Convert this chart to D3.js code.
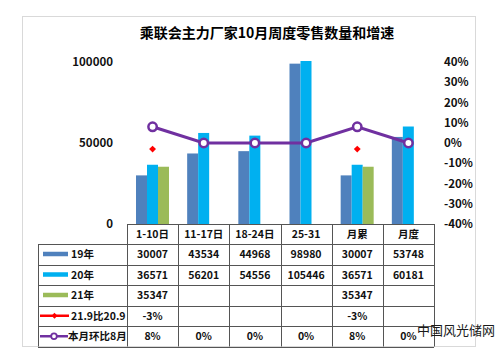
<!DOCTYPE html>
<html>
<head>
<meta charset="utf-8">
<script src="https://cdn.jsdelivr.net/npm/d3@7"></script>
<style>
  body { margin: 0; background: #fff; }
  text { font-family: "Noto Sans CJK SC", "Noto Sans", sans-serif; }
</style>
</head>
<body>
<script>
(function () {
  var cats = ["1-10日", "11-17日", "18-24日", "25-31", "月累", "月度"];
  var y19 = [30007, 43534, 44968, 98980, 30007, 53748];
  var y20 = [36571, 56201, 54556, 105446, 36571, 60181];
  var y21 = [35347, null, null, null, 35347, null];
  var yoy = [-3, null, null, null, -3, null];
  var mom = [8, 0, 0, 0, 8, 0];
  var leftTicks = [0, 50000, 100000];
  var rightTicks = [-40, -30, -20, -10, 0, 10, 20, 30, 40];

  var barSeries = [
    { name: "19年", vals: y19, color: "#4f81bd" },
    { name: "20年", vals: y20, color: "#00b0f0" },
    { name: "21年", vals: y21, color: "#9bbb59" }
  ];

  var W = 498, H = 361;
  var left = 127, right = 434, top = 62, bottom = 224;
  var rowH = 20.5;

  var svg = d3.select("body").append("svg")
    .attr("width", W)
    .attr("height", H);

  svg.append("rect")
    .attr("x", 22.5).attr("y", 16.5)
    .attr("width", 453).attr("height", 330)
    .attr("fill", "#fff")
    .attr("stroke", "#d9d9d9");

  svg.append("text")
    .attr("x", 267).attr("y", 38)
    .attr("text-anchor", "middle")
    .style("font-size", "14px")
    .style("font-weight", "bold")
    .text("乘联会主力厂家10月周度零售数量和增速");

  var x = d3.scaleBand().domain(cats).range([left, right]);
  var x1 = d3.scaleBand().domain(barSeries.map(function (s) { return s.name; })).range([9, 42]);
  var y = d3.scaleLinear().domain([0, 100000]).range([bottom, top]);
  var yr = d3.scaleLinear().domain([-40, 40]).range([bottom, top]);

  svg.append("defs").append("clipPath").attr("id", "plot")
    .append("rect")
    .attr("x", left).attr("y", top - 1)
    .attr("width", right - left).attr("height", bottom - top + 1);

  // axes
  var ga = svg.append("g")
    .attr("transform", "translate(" + left + ",0)")
    .call(d3.axisLeft(y).tickValues(leftTicks).tickSize(0).tickPadding(14).tickFormat(d3.format("d")));
  var gb = svg.append("g")
    .attr("transform", "translate(" + right + ",0)")
    .call(d3.axisRight(yr).tickValues(rightTicks).tickSize(0).tickPadding(10).tickFormat(function (d) { return d + "%"; }));
  [ga, gb].forEach(function (g) {
    g.select(".domain").remove();
    g.selectAll("text")
      .style("font-family", "\"Noto Sans CJK SC\", sans-serif")
      .style("font-size", "11.5px")
      .style("font-weight", "bold")
      .attr("fill", "#111");
  });

  // bars
  var bars = svg.append("g").attr("clip-path", "url(#plot)");
  barSeries.forEach(function (s) {
    bars.selectAll(null)
      .data(s.vals.map(function (v, i) { return { c: cats[i], v: v }; }).filter(function (d) { return d.v != null; }))
      .enter()
      .append("rect")
      .attr("x", function (d) { return x(d.c) + x1(s.name); })
      .attr("width", x1.bandwidth())
      .attr("y", function (d) { return y(d.v); })
      .attr("height", function (d) { return bottom - y(d.v); })
      .attr("fill", s.color);
  });

  var cx = function (c) { return x(c) + x.bandwidth() / 2; };

  // month on month line
  var momPts = mom.map(function (v, i) { return { c: cats[i], v: v }; });
  svg.append("path")
    .datum(momPts)
    .attr("fill", "none")
    .attr("stroke", "#7030a0")
    .attr("stroke-width", 3)
    .attr("d", d3.line().x(function (d) { return cx(d.c); }).y(function (d) { return yr(d.v); }));
  svg.selectAll(".mom")
    .data(momPts)
    .enter()
    .append("circle")
    .attr("cx", function (d) { return cx(d.c); })
    .attr("cy", function (d) { return yr(d.v); })
    .attr("r", 4.2)
    .attr("fill", "#fff")
    .attr("stroke", "#7030a0")
    .attr("stroke-width", 2.5);

  // yoy diamonds
  svg.selectAll(".yoy")
    .data(yoy.map(function (v, i) { return { c: cats[i], v: v }; }).filter(function (d) { return d.v != null; }))
    .enter()
    .append("path")
    .attr("d", d3.symbol().type(d3.symbolDiamond2).size(30))
    .attr("transform", function (d) { return "translate(" + cx(d.c) + "," + yr(d.v) + ")"; })
    .attr("fill", "#ff0000");

  // data table
  var tbl = svg.append("g");
  var lineColor = "#555";
  var rowsTop = bottom + 20;
  var rows = [
    { name: "19年", vals: y19, fmt: d3.format("d") },
    { name: "20年", vals: y20, fmt: d3.format("d") },
    { name: "21年", vals: y21, fmt: d3.format("d") },
    { name: "21.9比20.9", vals: yoy, fmt: function (v) { return v + "%"; } },
    { name: "本月环比8月", vals: mom, fmt: function (v) { return v + "%"; } }
  ];
  var tblBottom = rowsTop + rows.length * rowH;

  tbl.append("line")
    .attr("x1", left).attr("x2", right)
    .attr("y1", bottom + 0.5).attr("y2", bottom + 0.5)
    .attr("stroke", lineColor);
  d3.range(rows.length + 1).forEach(function (i) {
    var yy = Math.round(rowsTop + i * rowH) + 0.5;
    tbl.append("line")
      .attr("x1", 38).attr("x2", right)
      .attr("y1", yy).attr("y2", yy)
      .attr("stroke", lineColor);
  });
  tbl.append("line")
    .attr("x1", 38.5).attr("x2", 38.5)
    .attr("y1", rowsTop).attr("y2", tblBottom)
    .attr("stroke", lineColor);
  cats.concat([null]).forEach(function (c) {
    var xx = Math.round(c ? x(c) : right) + 0.5;
    tbl.append("line")
      .attr("x1", xx).attr("x2", xx)
      .attr("y1", bottom).attr("y2", tblBottom)
      .attr("stroke", lineColor);
  });

  var txt = function (g) {
    return g.style("font-size", "10.5px").style("font-weight", "bold").attr("fill", "#111");
  };

  cats.forEach(function (c) {
    txt(tbl.append("text"))
      .attr("x", cx(c)).attr("y", bottom + 14)
      .attr("text-anchor", "middle")
      .text(c);
  });

  rows.forEach(function (r, i) {
    var ry = rowsTop + i * rowH + rowH / 2;
    r.vals.forEach(function (v, j) {
      if (v == null) return;
      txt(tbl.append("text"))
        .attr("x", cx(cats[j])).attr("y", ry + 4)
        .attr("text-anchor", "middle")
        .text(r.fmt(v));
    });
    txt(tbl.append("text"))
      .attr("x", i < 4 ? 71 : 68).attr("y", ry + 4)
      .text(r.name);
  });

  // legend keys
  barSeries.forEach(function (s, i) {
    tbl.append("rect")
      .attr("x", 43).attr("y", rowsTop + i * rowH + rowH / 2 - 2.5)
      .attr("width", 25).attr("height", 4.5)
      .attr("fill", s.color);
  });
  var ly3 = rowsTop + 3 * rowH + rowH / 2;
  tbl.append("line")
    .attr("x1", 40).attr("x2", 69).attr("y1", ly3).attr("y2", ly3)
    .attr("stroke", "#ff0000").attr("stroke-width", 2.5);
  tbl.append("path")
    .attr("d", d3.symbol().type(d3.symbolDiamond2).size(22))
    .attr("transform", "translate(54.5," + ly3 + ")")
    .attr("fill", "#ff0000");
  var ly4 = rowsTop + 4 * rowH + rowH / 2;
  tbl.append("line")
    .attr("x1", 40).attr("x2", 68).attr("y1", ly4).attr("y2", ly4)
    .attr("stroke", "#7030a0").attr("stroke-width", 2.5);
  tbl.append("circle")
    .attr("cx", 54).attr("cy", ly4).attr("r", 2.8)
    .attr("fill", "#fff").attr("stroke", "#7030a0").attr("stroke-width", 1.8);

  // watermark
  svg.append("text")
    .attr("x", 417).attr("y", 335)
    .style("font-size", "13px")
    .attr("fill", "#1a1a1a")
    .text("中国风光储网");
})();
</script>
</body>
</html>
